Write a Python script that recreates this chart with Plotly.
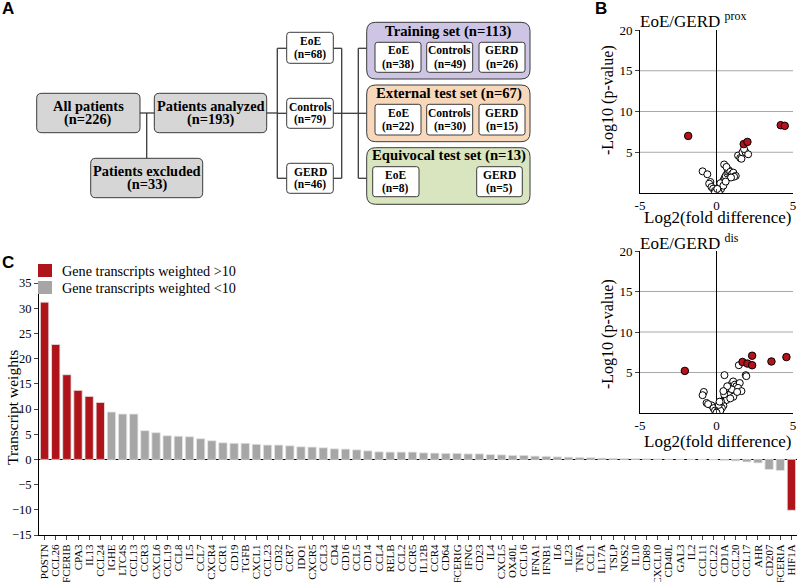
import plotly.graph_objects as go

# ---------------- data ----------------
genes = ["POSTN", "CCL26", "FCERIB", "CPA3", "IL13", "CCL24", "IGHE", "LTC4S", "CCL13", "CCR3",
         "CXCL6", "CCL19", "CCL8", "IL5", "CCL7", "CXCR4", "CCR1", "CD19", "TGFB", "CXCL1",
         "CCL23", "CD32", "CCR7", "IDO1", "CXCR5", "CCL3", "CD4", "CD16", "CCL5", "CD14",
         "CCL4", "RELB", "CCL2", "CCR5", "IL12B", "CCR4", "CD64", "FCERIG", "IFNG", "CD23",
         "IL4", "CXCL5", "OX40L", "CCL16", "IFNA1", "IFNB1", "IL6", "IL23", "TNFA", "CCL1",
         "IL17A", "TSLP", "NOS2", "IL10", "CD89", "CXCL10", "CD40L", "GAL3", "IL2", "CCL11",
         "CCL22", "CD1A", "CCL20", "CCL17", "AHR", "CD207", "FCERIA", "HIF1A"]
weights = [31.2, 22.8, 16.8, 13.7, 12.5, 11.3, 9.4, 9.0, 9.0, 5.7,
           5.3, 4.7, 4.6, 4.5, 4.1, 3.7, 3.3, 3.2, 3.2, 3.0,
           2.85, 2.85, 2.7, 2.5, 2.45, 2.3, 2.1, 2.05, 1.9, 1.7,
           1.5, 1.45, 1.45, 1.45, 1.3, 1.25, 1.2, 1.2, 1.1, 1.1,
           0.95, 0.9, 0.8, 0.8, 0.65, 0.6, 0.5, 0.45, 0.4, 0.35,
           0.25, 0.2, 0.15, 0.12, 0.1, 0.08, 0.05, 0.03, 0.02, -0.05,
           -0.1, -0.2, -0.3, -0.5, -0.7, -2.0, -2.2, -10.1]
y_ticks_bar = [-15, -10, -5, 0, 5, 10, 15, 20, 25, 30, 35]

prox_open_x = [-0.91, -0.6, -0.4, -0.48, -0.33, -0.22, -0.11, -0.05, 0.05, 0.1, 0.15, 0.2, 0.25, 0.3,
               0.35, 0.4, 0.45, 0.5, 0.55, 0.6, 0.7, 0.75, 0.8, 0.5, 0.65, 0.9, 1.0, 1.1, 1.26, 1.15,
               0.95, 0.2, 0.3, 0.1, 0.25, 0.45, 0.6, 0.15, -0.1, 0.05, 1.41, 1.55, 1.63, 1.7, 1.9, 2.07, 1.8]
prox_open_y = [2.66, 2.3, 1.35, 1.15, 0.74, 0.53, 0.25, 0.1, 0.15, 0.3, 0.4, 0.6, 0.8, 0.9,
               1.1, 1.3, 1.5, 1.7, 1.9, 2.1, 2.4, 2.6, 2.8, 3.5, 3.2, 2.6, 2.3, 2.5, 2.1, 2.0,
               1.9, 0.2, 0.5, 0.6, 1.2, 0.9, 1.4, 0.05, 0.05, 0.5, 4.6, 4.3, 4.2, 5.0, 5.0, 4.75, 5.4]
prox_sig_x = [-1.85, 1.78, 2.02, 4.2, 4.46]
prox_sig_y = [7.0, 6.0, 6.27, 8.32, 8.24]

dis_open_x = [1.46, 0.52, 1.91, 1.95, -0.83, -0.91, -0.65, -0.33, -0.55, -0.2, -0.1, 0.05, 0.1, 0.2,
              0.3, 0.4, 0.5, 0.55, 0.6, 0.7, 0.75, 0.85, 0.9, 1.0, 1.09, 1.2, 1.3, 1.52, 1.41, 1.63,
              1.2, 1.0, 0.8, 0.65, 0.45, 0.35, 0.25, 0.15, 0.3, 0.5, 1.1, 0.9, 1.35, 0.7, 0.0, 0.2, 0.45]
dis_open_y = [5.9, 4.67, 4.67, 4.55, 2.6, 2.2, 1.24, 0.95, 1.1, 0.6, 0.3, 0.1, 0.3, 0.6,
              0.9, 1.2, 1.5, 1.8, 2.1, 2.4, 2.7, 3.0, 3.3, 3.6, 3.9, 3.5, 3.3, 3.7, 3.1, 2.7,
              2.5, 2.9, 2.2, 1.6, 0.9, 0.6, 0.3, 1.0, 1.4, 2.3, 2.0, 1.8, 2.6, 3.3, 0.05, 1.4, 2.7]
dis_sig_x = [-2.07, 1.7, 2.02, 2.33, 2.33, 3.59, 4.57]
dis_sig_y = [5.2, 6.3, 6.1, 7.07, 5.9, 6.36, 6.9]

# ---------------- helpers ----------------
W, H = 800, 582
SERIF = "Liberation Serif, Times New Roman, Times, DejaVu Serif, serif"
SANS = "Liberation Sans, Arial, Helvetica, sans-serif"
RED = "#b0141b"
GREY = "#a6a6a6"


def fx(x):
    return x / W


def fy(y):
    return 1 - y / H


def rrect(x0, y0, x1, y1, r, fill, line="#3a3a3a", lw=1):
    p = (f"M {fx(x0 + r)},{fy(y0)} L {fx(x1 - r)},{fy(y0)} Q {fx(x1)},{fy(y0)} {fx(x1)},{fy(y0 + r)} "
         f"L {fx(x1)},{fy(y1 - r)} Q {fx(x1)},{fy(y1)} {fx(x1 - r)},{fy(y1)} "
         f"L {fx(x0 + r)},{fy(y1)} Q {fx(x0)},{fy(y1)} {fx(x0)},{fy(y1 - r)} "
         f"L {fx(x0)},{fy(y0 + r)} Q {fx(x0)},{fy(y0)} {fx(x0 + r)},{fy(y0)} Z")
    return dict(type="path", path=p, xref="paper", yref="paper", fillcolor=fill,
                line=dict(color=line, width=lw), layer="above")


def seg(x0, y0, x1, y1, color="#3a3a3a", w=1.3):
    return dict(type="line", xref="paper", yref="paper", x0=fx(x0), y0=fy(y0), x1=fx(x1), y1=fy(y1),
                line=dict(color=color, width=w), layer="above")


def txt(x, y, s, size, bold=True, family=SERIF, xanchor="center", angle=0, color="black"):
    return dict(x=fx(x), y=fy(y), xref="paper", yref="paper", text=(f"<b>{s}</b>" if bold else s),
                showarrow=False, xanchor=xanchor, yanchor="middle", textangle=angle,
                font=dict(family=family, size=size, color=color))


shapes = []
annots = []

# ---------------- panel A: flowchart ----------------
GBOX = "#d6d6d6"
for (x0, y0, x1, y1, l1, l2) in [(36.7, 93.3, 140, 132.7, "All patients", "(n=226)"),
                                 (154.3, 93.3, 266.7, 132.7, "Patients analyzed", "(n=193)"),
                                 (90.7, 158.3, 202.7, 197.7, "Patients excluded", "(n=33)")]:
    shapes.append(rrect(x0, y0, x1, y1, 5, GBOX))
    cx = (x0 + x1) / 2
    cy = (y0 + y1) / 2
    annots.append(txt(cx, cy - 6.6, l1, 14.4))
    annots.append(txt(cx, cy + 6.6, l2, 14.4))

shapes += [seg(140, 113, 154.3, 113), seg(146.7, 113, 146.7, 158.3), seg(266.7, 113, 277.3, 113),
           seg(277.3, 48.3, 277.3, 178.3), seg(341.7, 48.3, 341.7, 178.3), seg(358.3, 48.3, 358.3, 178.3),
           seg(333.3, 113.3, 358.3, 113.3)]
for yy in (48.3, 113.3, 178.3):
    shapes.append(seg(277.3, yy, 286.7, yy))
    shapes.append(seg(358.3, yy, 366.7, yy))
for yy in (48.3, 178.3):
    shapes.append(seg(333.3, yy, 341.7, yy))

for (y0, y1, l1, l2) in [(32.3, 63.3, "EoE", "(n=68)"), (98.3, 128.3, "Controls", "(n=79)"),
                         (163.3, 193.3, "GERD", "(n=46)")]:
    shapes.append(rrect(286.7, y0, 333.3, y1, 3, "white"))
    cy = (y0 + y1) / 2
    annots.append(txt(310, cy - 6.6, l1, 11.5))
    annots.append(txt(310, cy + 6.6, l2, 11.5))

sets = [(22.3, 79.0, "#cdc5e3", "Training set (n=113)", 31.5,
         [(375, 421, "EoE", "(n=38)"), (426.7, 472.7, "Controls", "(n=49)"), (479, 525, "GERD", "(n=26)")],
         (42.3, 72.3)),
        (85.0, 141.7, "#f7d8bb", "External test set (n=67)", 93.3,
         [(375, 421, "EoE", "(n=22)"), (426.7, 472.7, "Controls", "(n=30)"), (479, 525, "GERD", "(n=15)")],
         (104.3, 135.0)),
        (147.7, 204.3, "#d9e5be", "Equivocal test set (n=13)", 155.5,
         [(372.7, 419, "EoE", "(n=8)"), (476.7, 522.3, "GERD", "(n=5)")],
         (166.7, 196.7))]
for (y0, y1, fill, title, ty, inner, (iy0, iy1)) in sets:
    shapes.append(rrect(366.7, y0, 530, y1, 9, fill))
    annots.append(txt(448.5, ty, title, 14.7))
    for (ix0, ix1, l1, l2) in inner:
        shapes.append(rrect(ix0, iy0, ix1, iy1, 2.5, "white"))
        cx = (ix0 + ix1) / 2
        cy = (iy0 + iy1) / 2
        annots.append(txt(cx, cy - 7, l1, 11.5))
        annots.append(txt(cx, cy + 7, l2, 11.5))

annots.append(txt(8, 9, "A", 17, family=SANS))
annots.append(txt(601, 9, "B", 17, family=SANS))
annots.append(txt(8, 263, "C", 17, family=SANS))

# ---------------- panel C: bar chart ----------------
fig = go.Figure()
colors = [RED if abs(w) > 10 else GREY for w in weights]
fig.add_trace(go.Bar(x=genes, y=weights, marker=dict(color=colors, line=dict(color="#e4e4e4", width=0.8)),
                     xaxis="x", yaxis="y", showlegend=False, hoverinfo="x+y"))

shapes.append(dict(type="rect", xref="paper", yref="paper", x0=fx(38), x1=fx(52), y0=fy(264), y1=fy(277),
                   fillcolor=RED, line=dict(width=0)))
shapes.append(dict(type="rect", xref="paper", yref="paper", x0=fx(38), x1=fx(52), y0=fy(281), y1=fy(294),
                   fillcolor=GREY, line=dict(width=0)))
annots.append(txt(60, 270.5, "Gene transcripts weighted &gt;10", 14.2, bold=False, xanchor="left"))
annots.append(txt(60, 287.5, "Gene transcripts weighted &lt;10", 14.2, bold=False, xanchor="left"))
annots.append(txt(12, 408, "Transcript weights", 15.5, bold=False, angle=-90))

# ---------------- panel B: volcano plots ----------------
for (ox, oy, sx, sy, xa, ya) in [(prox_open_x, prox_open_y, prox_sig_x, prox_sig_y, "x2", "y2"),
                                 (dis_open_x, dis_open_y, dis_sig_x, dis_sig_y, "x3", "y3")]:
    fig.add_trace(go.Scatter(x=ox, y=oy, mode="markers", xaxis=xa, yaxis=ya, showlegend=False,
                             marker=dict(symbol="circle", size=7, color="white",
                                         line=dict(color="black", width=1))))
    fig.add_trace(go.Scatter(x=sx, y=sy, mode="markers", xaxis=xa, yaxis=ya, showlegend=False,
                             marker=dict(symbol="circle", size=7.5, color="#b5121b",
                                         line=dict(color="black", width=1))))
    for g in (5, 10, 15):
        shapes.append(dict(type="line", xref=f"{xa} domain", yref=ya, x0=0, x1=1, y0=g, y1=g,
                           line=dict(color="#a8a8a8", width=1), layer="below"))

annots.append(txt(638, 20, "EoE/GERD <sup>prox</sup>", 17, bold=False, xanchor="left"))
annots.append(txt(638, 242, "EoE/GERD <sup>dis</sup>", 17, bold=False, xanchor="left"))
annots.append(txt(717, 217, "Log2(fold difference)", 17, bold=False))
annots.append(txt(717, 441, "Log2(fold difference)", 17, bold=False))
annots.append(txt(608, 100, "-Log10 (p-value)", 16, bold=False, angle=-90))
annots.append(txt(608, 334, "-Log10 (p-value)", 16, bold=False, angle=-90))

vol_x = dict(range=[-5, 5], tickvals=[-5, 0, 5], ticktext=["-5", "0", "5"], ticks="inside", ticklen=4,
             showline=True, linecolor="black", linewidth=1, zeroline=True, zerolinecolor="black",
             zerolinewidth=1, showgrid=False, tickfont=dict(family=SERIF, size=13, color="black"),
             fixedrange=True)
vol_y = dict(range=[0, 20], tickvals=[5, 10, 15, 20], ticks="outside", ticklen=4, showline=True,
             linecolor="black", linewidth=1, zeroline=False, showgrid=False,
             tickfont=dict(family=SERIF, size=13, color="black"), fixedrange=True)

fig.update_layout(
    width=W, height=H, template="none",
    margin=dict(l=0, r=0, t=0, b=0, pad=0),
    paper_bgcolor="white", plot_bgcolor="rgba(0,0,0,0)",
    font=dict(family=SERIF, color="black"),
    bargap=0.25,
    showlegend=False,
    xaxis=dict(domain=[fx(39), fx(797)], anchor="y", type="category", range=[-0.5, 67.5],
               tickmode="array", tickvals=genes, ticktext=genes,
               tickangle=-90, ticks="outside", ticklen=4, showline=True, linecolor="black",
               linewidth=1, showgrid=False, automargin=False,
               tickfont=dict(family=SERIF, size=11, color="black"), fixedrange=True),
    yaxis=dict(domain=[fy(535), fy(283)], anchor="x", range=[-15, 35], tickvals=y_ticks_bar,
               ticks="outside", ticklen=4, showline=True, linecolor="black", linewidth=1,
               zeroline=True, zerolinecolor="black", zerolinewidth=1, showgrid=False, automargin=False,
               tickfont=dict(family=SERIF, size=12.5, color="black"), fixedrange=True),
    xaxis2=dict(domain=[fx(640), fx(793)], anchor="y2", automargin=False, **vol_x),
    yaxis2=dict(domain=[fy(193), fy(30)], anchor="x2", automargin=False, **vol_y),
    xaxis3=dict(domain=[fx(640), fx(793)], anchor="y3", automargin=False, **vol_x),
    yaxis3=dict(domain=[fy(413), fy(251)], anchor="x3", automargin=False, **vol_y),
    shapes=shapes,
    annotations=annots,
)

fig.write_html("out.html", config={"displayModeBar": False},
               post_script="document.body.style.margin='0px';document.body.style.overflow='hidden';")
